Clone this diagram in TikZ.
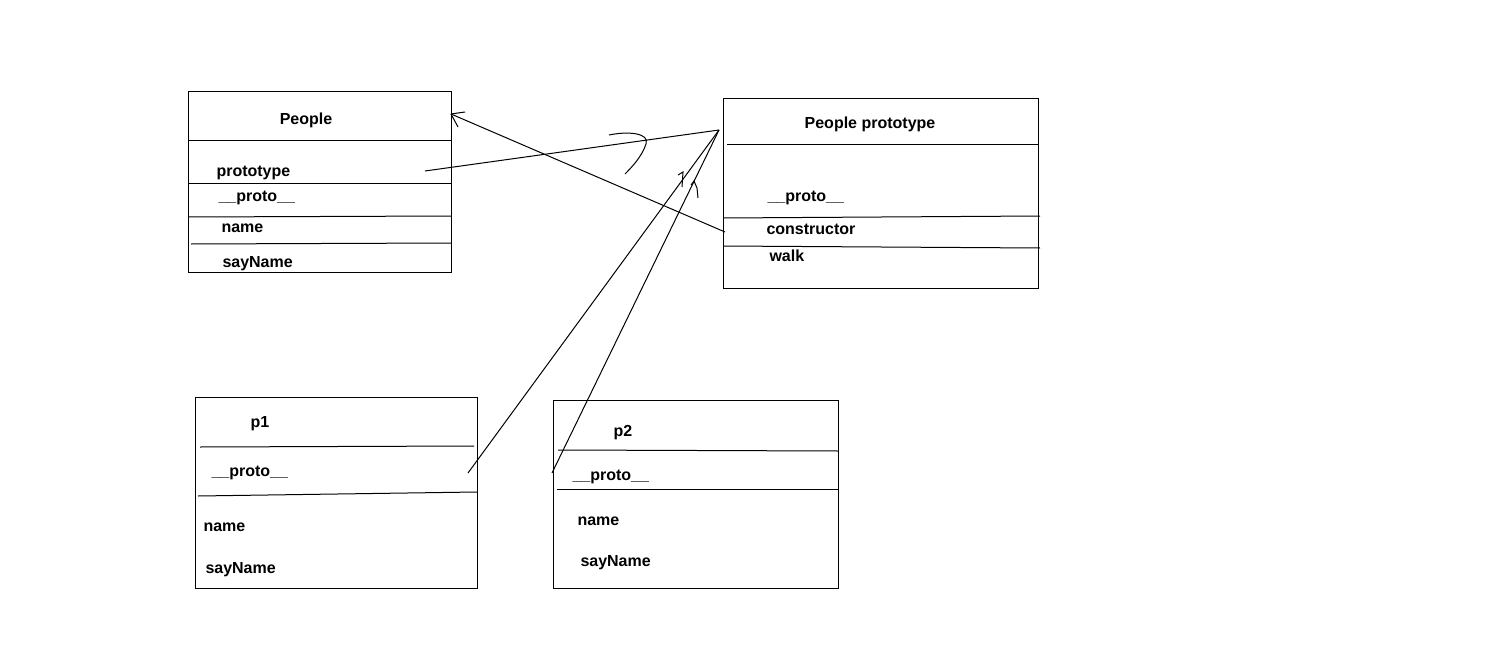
\documentclass[tikz,border=0pt]{standalone}
\usepackage{fontspec}
\setmainfont{Liberation Sans}
\usetikzlibrary{calc}

\begin{document}
\begin{tikzpicture}[x=1pt,y=-1pt,line width=1pt,
    lbl/.style={anchor=west,inner sep=0pt,yshift=-1.5pt,font=\bfseries\fontsize{16}{19}\selectfont},
    ttl/.style={lbl,anchor=center}]
    \useasboundingbox (0,0) rectangle (1512,658);

    % People
    \coordinate (PA) at (188,92);
    \coordinate (PB) at (451,272);
    \draw (PA) rectangle (PB);
    \draw (188,141) -- (451,141);
    \draw (188,183) -- (451,183);
    \draw (188,217) -- (451,216);
    \draw (191,244) -- (451,243);

    \node[ttl] (people) at (306,119) {People};
    \node[lbl] (pproto) at (216,171) {prototype};
    \node[lbl] (p__) at (218,196) {\_\_proto\_\_};
    \node[lbl] (pname) at (221,227) {name};
    \node[lbl] (psay) at (222,262) {sayName};

    % People prototype
    \coordinate (QA) at (723,99);
    \coordinate (QB) at (1038,288);
    \draw (QA) rectangle (QB);
    \draw (727,145) -- (1038,145);
    \draw (723,218) -- (1040,216);
    \draw (723,246) -- (1040,248);

    \node[ttl] (ptype) at (870,123) {People prototype};
    \node[lbl] (q__) at (767,196) {\_\_proto\_\_};
    \node[lbl] (qctor) at (766,228) {constructor};
    \node[lbl] (qwalk) at (769,254) {walk};

    % p1
    \coordinate (AA) at (195,397);
    \coordinate (AB) at (477,588);
    \draw (AA) rectangle (AB);
    \draw (200,447) -- (474,446);
    \draw (198,496) -- (477,492);

    \node[lbl] (a1) at (250,422) {p1};
    \node[lbl] (a__) at (211,471) {\_\_proto\_\_};
    \node[lbl] (aname) at (203,526) {name};
    \node[lbl] (asay) at (205,568) {sayName};

    % p2
    \coordinate (BA) at (553,400);
    \coordinate (BB) at (838,588);
    \draw (BA) rectangle (BB);
    \draw (558,450) -- (838,451);
    \draw (557,489) -- (838,489);

    \node[lbl] (b2) at (613,431) {p2};
    \node[lbl] (b__) at (572,475) {\_\_proto\_\_};
    \node[lbl] (bname) at (577,520) {name};
    \node[lbl] (bsay) at (580,561) {sayName};

    % links
    \coordinate (hub) at (719,130);
    \coordinate (ptip) at (451,114);
    \coordinate (ctor) at (725,232);
    \coordinate (pstart) at (425,171);
    \coordinate (astart) at (468,473);
    \coordinate (bstart) at (552,473);

    \draw (ctor) -- (ptip);
    \draw (ptip) -- (465,112);
    \draw (ptip) -- (458,127);

    \draw (pstart) -- (hub);
    \draw (609,135) .. controls (628,131) and (650,133) .. (646,144)
        .. controls (642,156) and (633,166) .. (625,174);

    \draw (astart) -- (hub);
    \draw (678,175) -- (683,172) -- (682,187);

    \draw (bstart) -- (hub);
    \draw (691,185) -- (694,181) -- (697,188) -- (698,198);
\end{tikzpicture}
\end{document}
